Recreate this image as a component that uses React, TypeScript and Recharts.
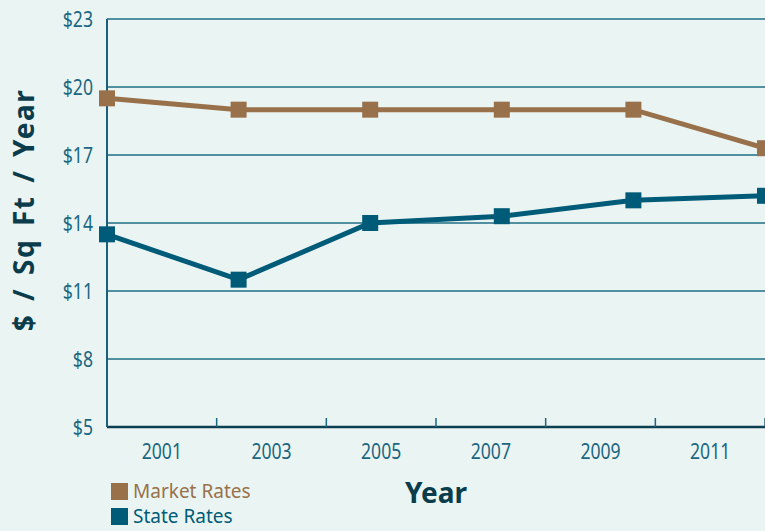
import { LineChart, Line, XAxis, YAxis, CartesianGrid } from "recharts";

const years = ["2001", "2003", "2005", "2007", "2009", "2011"];
const marketRates = [19.5, 19.0, 19.0, 19.0, 19.0, 17.3];
const stateRates = [13.5, 11.5, 14.0, 14.3, 15.0, 15.2];
const yTicks = [5, 8, 11, 14, 17, 20, 23];
const yearBounds = [1, 2, 3, 4, 5, 6];

const data = years.map((y, i) => ({
  i,
  year: y,
  market: marketRates[i],
  state: stateRates[i],
}));

const W = 765;
const H = 531;
const LEFT = 107;
const BAND = (W - LEFT) / years.length;

const BROWN = "#98714b";
const TEAL = "#005b78";
const TICK = "#1b6680";
const DARK = "#0b3c4b";
const SANS = '"Noto Sans", "Open Sans", sans-serif';
// condensed look for tick labels (no narrow font installed)
const SQUEEZE = 0.8;

const squareDot = (color: string) => (p: any) => (
  <rect
    key={`d-${p.index}`}
    x={p.cx - 8}
    y={p.cy - 8}
    width={16}
    height={16}
    fill={color}
  />
);

const YearTick = (p: any) => (
  <text
    transform={`translate(${p.x - BAND / 2},${p.y + 41}) scale(${SQUEEZE},1)`}
    textAnchor="middle"
    fill={TICK}
    fontSize={22}
    fontFamily={SANS}
  >
    {years[p.index]}
  </text>
);

const DollarTick = (p: any) => (
  <text
    transform={`translate(${p.x},${p.y}) scale(${SQUEEZE},1)`}
    dy="0.36em"
    textAnchor="end"
    fill={TICK}
    fontSize={22}
    fontFamily={SANS}
  >
    {`$${p.payload.value}`}
  </text>
);

export default function App() {
  return (
    <div
      style={{
        position: "absolute",
        left: 0,
        top: 0,
        width: W,
        height: H,
        background: "#eaf5f3",
        overflow: "hidden",
      }}
    >
      <LineChart
        width={W}
        height={H}
        data={data}
        margin={{ top: 19, right: 0, left: 0, bottom: 64 }}
      >
        <CartesianGrid vertical={false} stroke="#1f6c84" strokeWidth={1.5} />
        <XAxis
          type="number"
          dataKey="i"
          domain={[0, 6]}
          ticks={yearBounds}
          interval={0}
          height={40}
          tickSize={-9}
          tickMargin={0}
          axisLine={{ stroke: "#0d3f52", strokeWidth: 2.5 }}
          tickLine={{ stroke: "#1b6680", strokeWidth: 1.5 }}
          tick={YearTick}
        />
        <XAxis xAxisId="pt" type="number" dataKey="i" domain={[0, 5]} hide />
        <YAxis
          domain={[5, 23]}
          ticks={yTicks}
          interval={0}
          width={LEFT}
          tickLine={false}
          tickMargin={8}
          axisLine={{ stroke: "#1a607a", strokeWidth: 2 }}
          tick={DollarTick}
        />
        <Line
          xAxisId="pt"
          dataKey="market"
          stroke={BROWN}
          strokeWidth={5}
          dot={squareDot(BROWN)}
          isAnimationActive={false}
        />
        <Line
          xAxisId="pt"
          dataKey="state"
          stroke={TEAL}
          strokeWidth={5}
          dot={squareDot(TEAL)}
          isAnimationActive={false}
        />
      </LineChart>

      <div
        style={{
          position: "absolute",
          left: 23,
          top: 210,
          transform: "translate(-50%, -50%) rotate(-90deg)",
          whiteSpace: "nowrap",
          fontFamily: SANS,
          fontWeight: 700,
          fontSize: 28,
          letterSpacing: 1.5,
          wordSpacing: 4,
          color: DARK,
        }}
      >
        $ / Sq Ft / Year
      </div>
      <div
        style={{
          position: "absolute",
          left: 436,
          top: 492,
          transform: "translate(-50%, -50%)",
          fontFamily: SANS,
          fontWeight: 700,
          fontSize: 28,
          color: DARK,
        }}
      >
        Year
      </div>

      <div
        style={{
          position: "absolute",
          left: 111,
          top: 481,
          fontFamily: SANS,
          fontSize: 19,
          lineHeight: "20px",
        }}
      >
        {[
          { name: "Market Rates", color: BROWN },
          { name: "State Rates", color: TEAL },
        ].map((s) => (
          <div
            key={s.name}
            style={{ display: "flex", alignItems: "center", color: s.color, marginBottom: 5 }}
          >
            <span
              style={{
                display: "inline-block",
                width: 17,
                height: 17,
                background: s.color,
                marginRight: 5,
              }}
            />
            {s.name}
          </div>
        ))}
      </div>
    </div>
  );
}
